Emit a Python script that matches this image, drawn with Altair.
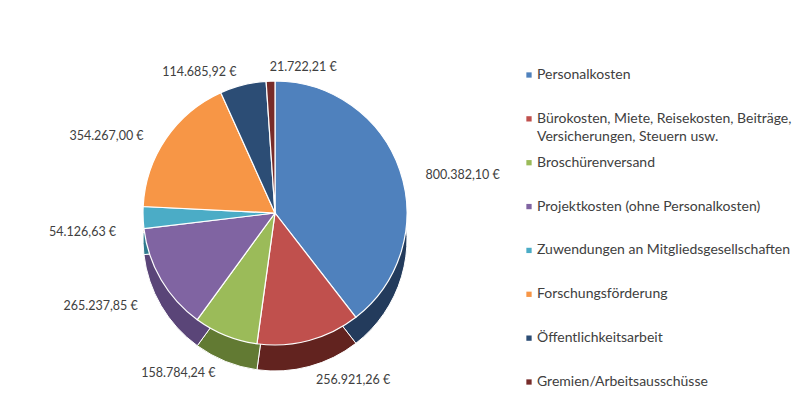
import altair as alt
import pandas as pd

categories = [
    "Personalkosten",
    "Bürokosten, Miete, Reisekosten, Beiträge, Versicherungen, Steuern usw.",
    "Broschürenversand",
    "Projektkosten (ohne Personalkosten)",
    "Zuwendungen an Mitgliedsgesellschaften",
    "Forschungsförderung",
    "Öffentlichkeitsarbeit",
    "Gremien/Arbeitsausschüsse",
]
values = [800382.10, 256921.26, 158784.24, 265237.85, 54126.63, 354267.00, 114685.92, 21722.21]
value_labels = [
    "800.382,10 €", "256.921,26 €", "158.784,24 €", "265.237,85 €",
    "54.126,63 €", "354.267,00 €", "114.685,92 €", "21.722,21 €",
]
top_colors = ["#4F81BD", "#C0504D", "#9BBB59", "#8064A2", "#4BACC6", "#F79646", "#2C4D75", "#772C2A"]
side_colors = ["#233B5C", "#62231F", "#627A33", "#5A4578", "#2F7A8E", "#B2652A", "#1B3049", "#4E1C1B"]

df = pd.DataFrame({
    "idx": list(range(len(categories))),
    "category": categories,
    "value": values,
    "label": value_labels,
    "side_color": side_colors,
})

CX, CY, R, DEPTH = 267, 205, 132, 26
RL = R + DEPTH / 2 + 14
FONT = "Lato"

base = alt.Chart(df)
color_scale = alt.Scale(domain=categories, range=top_colors)
theta = alt.Theta("value:Q", stack=True)
order = alt.Order("idx:Q")

side = base.mark_arc(outerRadius=R, stroke="white", strokeWidth=1).encode(
    theta=theta, order=order,
    fill=alt.Fill("side_color:N", scale=None),
    x=alt.value(CX), y=alt.value(CY + DEPTH),
)
top = base.mark_arc(outerRadius=R, stroke="white", strokeWidth=1.2).encode(
    theta=theta, order=order,
    color=alt.Color("category:N", scale=color_scale, legend=None),
    x=alt.value(CX), y=alt.value(CY),
)

lab = base.transform_joinaggregate(total="sum(value)").transform_window(
    cum="sum(value)", sort=[alt.SortField("idx")], frame=[None, 0]
).transform_calculate(
    mid="(datum.cum - datum.value / 2) / datum.total",
).transform_calculate(
    is_left="datum.mid > 0.5 && datum.mid < 0.97"
)

lab_right = lab.transform_calculate(t="datum.is_left ? '' : datum.label").mark_text(
    radius=RL, align="left", baseline="middle", font=FONT, fontSize=12.5, color="#404040"
).encode(theta=theta, order=order, text="t:N", x=alt.value(CX), y=alt.value(CY + DEPTH / 2))

lab_left = lab.transform_calculate(t="datum.is_left ? datum.label : ''").mark_text(
    radius=RL, align="right", baseline="middle", font=FONT, fontSize=12.5, color="#404040"
).encode(theta=theta, order=order, text="t:N", x=alt.value(CX), y=alt.value(CY + DEPTH / 2))

ly = alt.Y("category:N", scale=alt.Scale(type="point", domain=categories, range=[67, 374], padding=0), axis=None)

leg_sq = base.mark_square(size=28, opacity=1).encode(
    x=alt.value(521), y=ly,
    color=alt.Color("category:N", scale=color_scale, legend=None),
)
leg_txt = base.transform_calculate(
    parts="split(replace(datum.category, 'Beiträge, ', 'Beiträge,|'), '|')"
).transform_calculate(
    l1="datum.parts[0]", l2="length(datum.parts) > 1 ? datum.parts[1] : ''"
)
leg_t1 = leg_txt.mark_text(align="left", baseline="middle", font=FONT, fontSize=14, color="#404040").encode(
    x=alt.value(529), y=ly, text="l1:N"
)
leg_t2 = leg_txt.mark_text(align="left", baseline="middle", dy=18, font=FONT, fontSize=14, color="#404040").encode(
    x=alt.value(529), y=ly, text="l2:N"
)

chart = alt.layer(side, top, lab_right, lab_left, leg_sq, leg_t1, leg_t2).properties(
    width=784, height=378, padding=0
).configure_view(stroke=None)

chart.save("out.html", embed_options={"renderer": "svg", "actions": False})
